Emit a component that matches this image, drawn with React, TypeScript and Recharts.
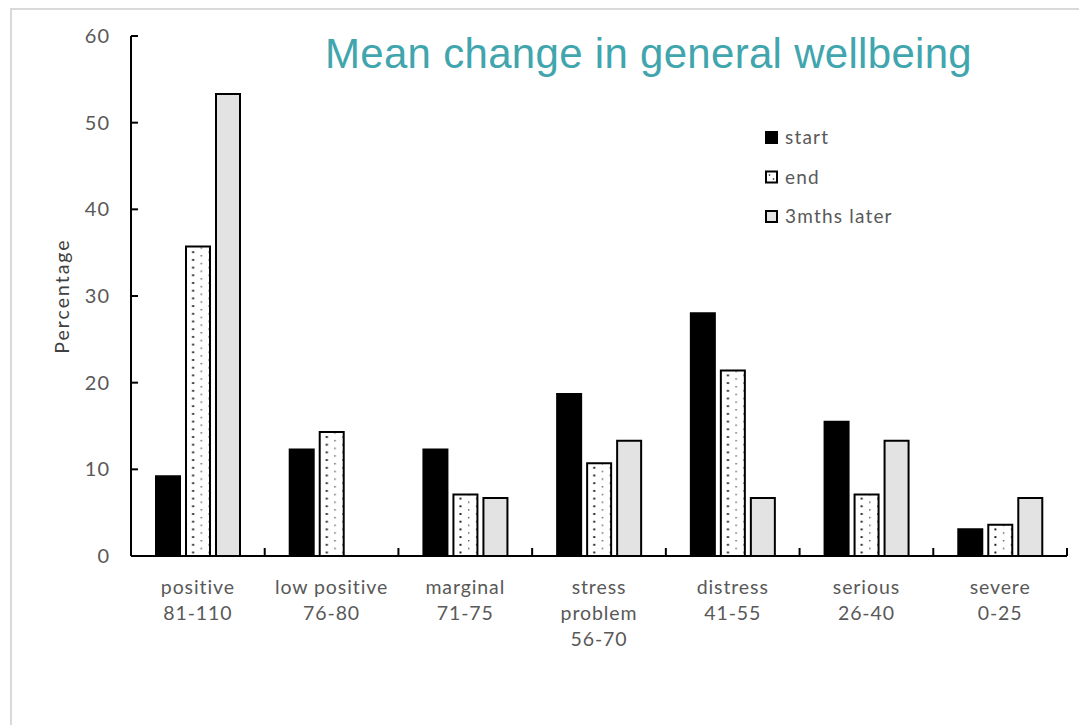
import { Bar, BarChart, Legend, XAxis, YAxis } from "recharts";

const categories = [
  "positive\n81-110",
  "low positive\n76-80",
  "marginal\n71-75",
  "stress\nproblem\n56-70",
  "distress\n41-55",
  "serious\n26-40",
  "severe\n0-25",
];
const startValues = [9.2, 12.3, 12.3, 18.7, 28.0, 15.5, 3.1];
const endValues = [35.7, 14.3, 7.1, 10.7, 21.4, 7.1, 3.6];
const laterValues = [53.3, 0, 6.7, 13.3, 6.7, 13.3, 6.7];
const yTicks = [0, 10, 20, 30, 40, 50, 60];

const data = categories.map((name, i) => ({
  name,
  start: startValues[i],
  end: endValues[i],
  later: laterValues[i],
}));

const FONT = "Lato, 'Open Sans', sans-serif";
const GREY = "#595959";

// category label + the small upward tick marks on the category boundaries
const CategoryTick = (props: any) => {
  const { x, y, payload, index } = props;
  const half = payload.offset || 0;
  const lines = String(payload.value).split("\n");
  const last = index === categories.length - 1;
  return (
    <g>
      <line x1={x - half} x2={x - half} y1={y} y2={y - 8} stroke="#000" strokeWidth={2} />
      {last && <line x1={x + half} x2={x + half} y1={y} y2={y - 8} stroke="#000" strokeWidth={2} />}
      <text
        x={x}
        y={y}
        textAnchor="middle"
        fill={GREY}
        fontSize={19.5}
        fontFamily={FONT}
        letterSpacing={0.9}
      >
        {lines.map((l, i) => (
          <tspan key={i} x={x} dy={i === 0 ? 38 : 26}>
            {l}
          </tspan>
        ))}
      </text>
    </g>
  );
};

const legendItems = [
  { key: "start", label: "start", fill: "#000" },
  { key: "end", label: "end", fill: "#fff" },
  { key: "later", label: "3mths later", fill: "#e3e3e3" },
];

const renderLegend = () => (
  <svg width={180} height={130} style={{ overflow: "visible" }}>
    {legendItems.map((it, i) => (
      <g key={it.key} transform={`translate(0, ${i * 39.5})`}>
        <rect x={2} y={6} width={11} height={11} fill={it.fill} stroke="#000" strokeWidth={2} />
        {it.key === "end" && (
          <>
            <circle cx={5.5} cy={9.5} r={0.8} fill="#000" />
            <circle cx={9.5} cy={13.5} r={0.8} fill="#000" />
          </>
        )}
        <text x={21} y={18} fill={GREY} fontSize={19} fontFamily={FONT} letterSpacing={1.2}>
          {it.label}
        </text>
      </g>
    ))}
  </svg>
);

export default function App() {
  return (
    <div
      style={{
        position: "absolute",
        left: 0,
        top: 0,
        width: 1079,
        height: 725,
        background: "#fff",
        overflow: "hidden",
      }}
    >
      <div
        style={{
          position: "absolute",
          left: 10,
          top: 8,
          width: 1100,
          height: 760,
          border: "2px solid #d9d9d9",
          boxSizing: "border-box",
        }}
      />
      <svg width={1079} height={100} style={{ position: "absolute", left: 0, top: 0 }}>
        <text
          x={648.5}
          y={68}
          textAnchor="middle"
          fill="#41a5ae"
          fontSize={42}
          fontFamily="'Liberation Sans', Arial, sans-serif"
          letterSpacing={0.3}
        >
          Mean change in general wellbeing
        </text>
      </svg>
      <BarChart
        width={1079}
        height={725}
        data={data}
        margin={{ top: 36, right: 12, left: 71, bottom: 69 }}
        barSize={24}
        barGap={6}
        style={{ position: "absolute", left: 0, top: 0 }}
      >
        <defs>
          <pattern id="dots" width="16.714" height="7.7" patternUnits="userSpaceOnUse">
            <rect width="16.714" height="7.7" fill="#fff" />
            <rect x="0" y="1" width="1.4" height="1.4" fill="#555" />
            <rect x="8.3" y="4.85" width="1.9" height="1.9" fill="#111" />
          </pattern>
        </defs>
        <XAxis
          dataKey="name"
          height={100}
          axisLine={{ stroke: "#000", strokeWidth: 2 }}
          tickLine={false}
          tickSize={0}
          tickMargin={0}
          interval={0}
          tick={<CategoryTick />}
        />
        <YAxis
          width={60}
          domain={[0, 60]}
          ticks={yTicks}
          tickSize={-7}
          tickMargin={28}
          axisLine={{ stroke: "#000", strokeWidth: 2 }}
          tickLine={{ stroke: "#000", strokeWidth: 2 }}
          tick={{ fill: GREY, fontSize: 20, fontFamily: FONT, letterSpacing: 1 }}
          label={{
            content: (p: any) => {
              const vb = p.viewBox;
              const cx = 61;
              const cy = vb.y + vb.height / 2;
              return (
                <text
                  x={cx}
                  y={cy}
                  transform={`rotate(-90 ${cx} ${cy})`}
                  textAnchor="middle"
                  dominantBaseline="central"
                  fill="#404040"
                  fontSize={19.5}
                  fontFamily={FONT}
                  letterSpacing={2}
                >
                  Percentage
                </text>
              );
            },
          }}
        />
        <Legend
          layout="vertical"
          align="center"
          verticalAlign="middle"
          content={renderLegend}
          wrapperStyle={{ left: 764, top: 126, width: 180 }}
        />
        <Bar dataKey="start" name="start" fill="#000" stroke="#000" strokeWidth={2} isAnimationActive={false} />
        <Bar dataKey="end" name="end" fill="url(#dots)" stroke="#000" strokeWidth={2} isAnimationActive={false} />
        <Bar dataKey="later" name="3mths later" fill="#e3e3e3" stroke="#000" strokeWidth={2} isAnimationActive={false} />
      </BarChart>
    </div>
  );
}
